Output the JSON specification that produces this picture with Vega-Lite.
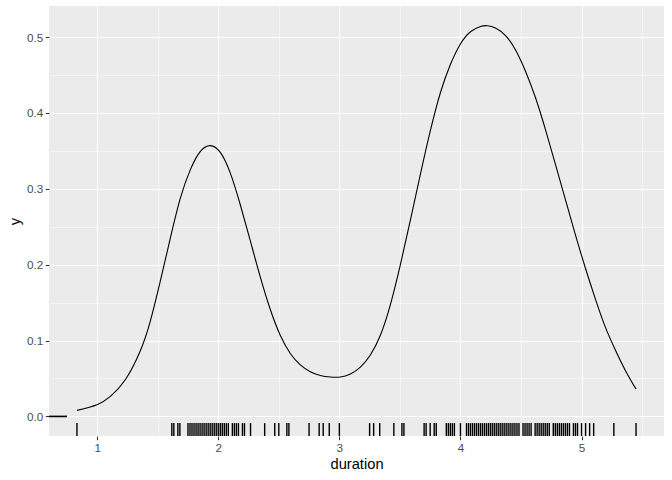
{
  "$schema": "https://vega.github.io/schema/vega-lite/v6.json",
  "width": 615,
  "height": 430,
  "autosize": {"type": "none"},
  "padding": {"left": 49, "top": 6, "right": 8, "bottom": 44},
  "background": "white",
  "config": {
    "view": {"fill": "#EBEBEB", "stroke": null},
    "font": "Liberation Sans",
    "axis": {"domain": false}
  },
  "datasets": {
    "rug": [
      {"duration": 0.8333}, {"duration": 1.6167}, {"duration": 1.6333}, {"duration": 1.6667}, {"duration": 1.6833},
      {"duration": 1.75}, {"duration": 1.7667}, {"duration": 1.7833}, {"duration": 1.8}, {"duration": 1.8167},
      {"duration": 1.8333}, {"duration": 1.85}, {"duration": 1.8667}, {"duration": 1.8833}, {"duration": 1.9},
      {"duration": 1.9167}, {"duration": 1.9333}, {"duration": 1.95}, {"duration": 1.9667}, {"duration": 1.9833},
      {"duration": 2.0}, {"duration": 2.0167}, {"duration": 2.0333}, {"duration": 2.05}, {"duration": 2.0667},
      {"duration": 2.0833}, {"duration": 2.1167}, {"duration": 2.1333}, {"duration": 2.15}, {"duration": 2.1667},
      {"duration": 2.2}, {"duration": 2.2167}, {"duration": 2.2667}, {"duration": 2.3833}, {"duration": 2.4667},
      {"duration": 2.5}, {"duration": 2.5667}, {"duration": 2.5833}, {"duration": 2.75}, {"duration": 2.8333},
      {"duration": 2.8667}, {"duration": 2.9167}, {"duration": 3.0}, {"duration": 3.25}, {"duration": 3.2833},
      {"duration": 3.3333}, {"duration": 3.45}, {"duration": 3.5167}, {"duration": 3.5333}, {"duration": 3.7},
      {"duration": 3.7167}, {"duration": 3.75}, {"duration": 3.7833}, {"duration": 3.8}, {"duration": 3.8833},
      {"duration": 3.9}, {"duration": 3.9167}, {"duration": 3.9333}, {"duration": 3.95}, {"duration": 4.0},
      {"duration": 4.05}, {"duration": 4.0667}, {"duration": 4.0833}, {"duration": 4.1}, {"duration": 4.1167},
      {"duration": 4.1333}, {"duration": 4.15}, {"duration": 4.1667}, {"duration": 4.1833}, {"duration": 4.2},
      {"duration": 4.2167}, {"duration": 4.2333}, {"duration": 4.25}, {"duration": 4.2667}, {"duration": 4.2833},
      {"duration": 4.3}, {"duration": 4.3167}, {"duration": 4.3333}, {"duration": 4.35}, {"duration": 4.3667},
      {"duration": 4.3833}, {"duration": 4.4}, {"duration": 4.4167}, {"duration": 4.4333}, {"duration": 4.45},
      {"duration": 4.4667}, {"duration": 4.4833}, {"duration": 4.5167}, {"duration": 4.5333}, {"duration": 4.55},
      {"duration": 4.5667}, {"duration": 4.5833}, {"duration": 4.6167}, {"duration": 4.6333}, {"duration": 4.65},
      {"duration": 4.6667}, {"duration": 4.6833}, {"duration": 4.7}, {"duration": 4.7167}, {"duration": 4.7333},
      {"duration": 4.7667}, {"duration": 4.7833}, {"duration": 4.8}, {"duration": 4.8167}, {"duration": 4.8333},
      {"duration": 4.85}, {"duration": 4.8667}, {"duration": 4.8833}, {"duration": 4.9}, {"duration": 4.9333},
      {"duration": 4.95}, {"duration": 4.9667}, {"duration": 5.0}, {"duration": 5.0333}, {"duration": 5.0667},
      {"duration": 5.1}, {"duration": 5.2667}, {"duration": 5.45}
    ],
    "dens": [
      {"duration": 0.8333, "density": 0.008}, {"duration": 1.0, "density": 0.0155}, {"duration": 1.107, "density": 0.026},
      {"duration": 1.231, "density": 0.048}, {"duration": 1.355, "density": 0.086}, {"duration": 1.438, "density": 0.125},
      {"duration": 1.521, "density": 0.178}, {"duration": 1.603, "density": 0.234}, {"duration": 1.686, "density": 0.287},
      {"duration": 1.769, "density": 0.325}, {"duration": 1.851, "density": 0.349}, {"duration": 1.934, "density": 0.357},
      {"duration": 2.017, "density": 0.348}, {"duration": 2.099, "density": 0.321}, {"duration": 2.182, "density": 0.279},
      {"duration": 2.264, "density": 0.232}, {"duration": 2.347, "density": 0.184}, {"duration": 2.43, "density": 0.141},
      {"duration": 2.512, "density": 0.107}, {"duration": 2.595, "density": 0.083}, {"duration": 2.678, "density": 0.068},
      {"duration": 2.76, "density": 0.059}, {"duration": 2.843, "density": 0.054}, {"duration": 2.926, "density": 0.052},
      {"duration": 3.008, "density": 0.052}, {"duration": 3.091, "density": 0.056}, {"duration": 3.174, "density": 0.065},
      {"duration": 3.256, "density": 0.081}, {"duration": 3.339, "density": 0.107}, {"duration": 3.421, "density": 0.147},
      {"duration": 3.504, "density": 0.2}, {"duration": 3.587, "density": 0.259}, {"duration": 3.669, "density": 0.319},
      {"duration": 3.752, "density": 0.377}, {"duration": 3.835, "density": 0.427}, {"duration": 3.917, "density": 0.464},
      {"duration": 4.0, "density": 0.491}, {"duration": 4.083, "density": 0.507}, {"duration": 4.165, "density": 0.514},
      {"duration": 4.223, "density": 0.515}, {"duration": 4.289, "density": 0.512}, {"duration": 4.372, "density": 0.502},
      {"duration": 4.455, "density": 0.483}, {"duration": 4.537, "density": 0.455}, {"duration": 4.62, "density": 0.42},
      {"duration": 4.702, "density": 0.378}, {"duration": 4.785, "density": 0.332}, {"duration": 4.868, "density": 0.285},
      {"duration": 4.95, "density": 0.239}, {"duration": 5.033, "density": 0.195}, {"duration": 5.116, "density": 0.154},
      {"duration": 5.198, "density": 0.117}, {"duration": 5.281, "density": 0.087}, {"duration": 5.364, "density": 0.06},
      {"duration": 5.45, "density": 0.036}
    ],
    "seg": [
      {"duration": 0.6025, "density": 0}, {"duration": 0.752, "density": 0}
    ]
  },
  "resolve": {
    "scale": {"x": "shared", "y": "shared"},
    "axis": {"x": "independent", "y": "independent"}
  },
  "layer": [
    {
      "data": {"name": "seg"},
      "mark": {"type": "line", "color": "black", "strokeWidth": 1.6},
      "encoding": {
        "x": {
          "field": "duration", "type": "quantitative",
          "scale": {"domain": [0.6025, 5.6808], "nice": false, "zero": false},
          "axis": {"orient": "top", "grid": true, "values": [1.5, 2.5, 3.5, 4.5, 5.5], "gridColor": "white", "gridWidth": 0.53, "gridOpacity": 1, "ticks": false, "labels": false, "domain": false, "title": null}
        },
        "y": {
          "field": "density", "type": "quantitative",
          "scale": {"domain": [-0.0258, 0.541], "nice": false, "zero": false},
          "axis": {"orient": "right", "grid": true, "values": [0.05, 0.15, 0.25, 0.35, 0.45], "gridColor": "white", "gridWidth": 0.53, "gridOpacity": 1, "ticks": false, "labels": false, "domain": false, "title": null}
        }
      }
    },
    {
      "data": {"name": "dens"},
      "mark": {"type": "line", "color": "black", "strokeWidth": 1.1, "interpolate": "natural"},
      "encoding": {
        "x": {
          "field": "duration", "type": "quantitative",
          "axis": {"orient": "bottom", "values": [1, 2, 3, 4, 5], "format": "d", "grid": true, "gridColor": "white", "gridWidth": 1.07, "gridOpacity": 1, "tickColor": "#333333", "tickSize": 3.7, "tickWidth": 1.07, "labelColor": "#4D4D4D", "labelFontSize": 11.7, "labelPadding": 2.5, "title": "duration", "titleFontSize": 14.7, "titleFontWeight": "normal", "titleColor": "black", "titlePadding": 3}
        },
        "y": {
          "field": "density", "type": "quantitative",
          "axis": {"orient": "left", "values": [0, 0.1, 0.2, 0.3, 0.4, 0.5], "format": ".1f", "grid": true, "gridColor": "white", "gridWidth": 1.07, "gridOpacity": 1, "tickColor": "#333333", "tickSize": 3.7, "tickWidth": 1.07, "labelColor": "#4D4D4D", "labelFontSize": 11.7, "labelPadding": 2.5, "title": "y", "titleFontSize": 14.7, "titleFontWeight": "normal", "titleColor": "black", "titlePadding": 4}
        }
      }
    },
    {
      "data": {"name": "rug"},
      "mark": {"type": "rule", "color": "black", "strokeWidth": 1.4},
      "encoding": {
        "x": {"field": "duration", "type": "quantitative", "axis": null},
        "y": {"datum": -0.0258, "type": "quantitative", "axis": null},
        "y2": {"datum": -0.0088}
      }
    }
  ]
}
